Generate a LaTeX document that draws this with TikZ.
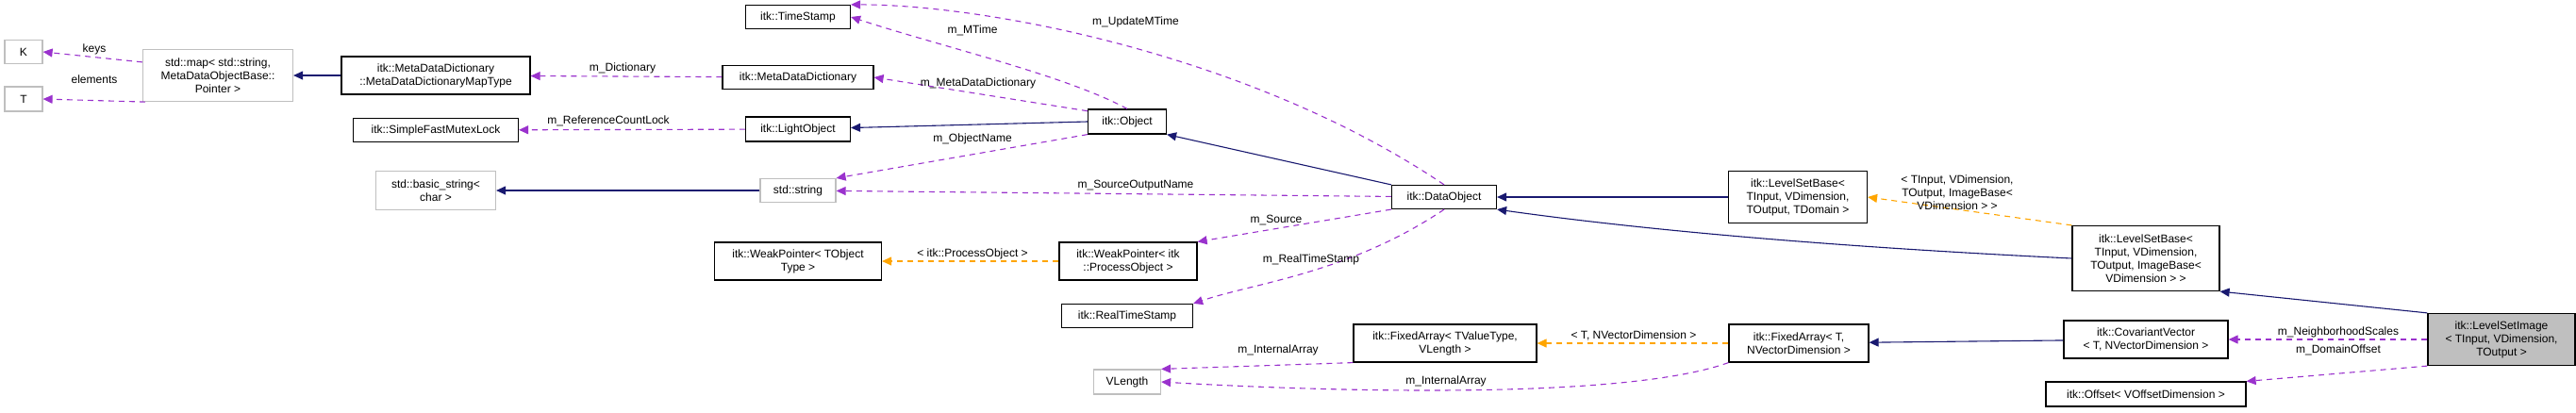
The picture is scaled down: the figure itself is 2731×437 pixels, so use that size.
\documentclass[tikz,border=0pt]{standalone}
\usepackage{fontspec}
\setmainfont{Liberation Sans}
\usetikzlibrary{arrows.meta}

\definecolor{edgeblue}{HTML}{191970}
\definecolor{edgepurple}{HTML}{9A32CD}
\definecolor{edgeorange}{HTML}{FFA500}
\definecolor{boxgray}{HTML}{BFBFBF}

\tikzset{
  cls/.style={draw=black, line width=1.2pt, fill=white, align=center, inner sep=2pt, font=\fontsize{12}{14}\selectfont},
  ext/.style={cls, draw=boxgray},
  inherit/.style={edgeblue, line width=1.1pt, -{Triangle[length=10pt,width=9pt]}},
  use/.style={edgepurple, line width=1.1pt, dash pattern=on 6pt off 5pt, -{Triangle[length=10pt,width=9pt]}},
  templ/.style={edgeorange, line width=1.1pt, dash pattern=on 6pt off 5pt, -{Triangle[length=10pt,width=9pt]}},
  lbl/.style={font=\fontsize{12}{14}\selectfont, align=center, inner sep=0pt}
}

\begin{document}
\begin{tikzpicture}[x=1pt,y=-1pt]
  \useasboundingbox (0,0) rectangle (2731,437);

  % classes
  \node[ext, minimum width=40, minimum height=25] (K) at (25,55) {K};
  \node[ext, minimum width=40, minimum height=26] (T) at (25,105) {T};
  \node[ext, minimum width=159, minimum height=55] (Map) at (231,80) {std::map< std::string,\\ MetaDataObjectBase::\\Pointer >};
  \node[cls, minimum width=200, minimum height=40] (MapType) at (462,80) {itk::MetaDataDictionary\\::MetaDataDictionaryMapType};
  \node[cls, minimum width=175, minimum height=25] (Mutex) at (462,138) {itk::SimpleFastMutexLock};
  \node[ext, minimum width=127, minimum height=41] (BasicString) at (462,202) {std::basic\_string<\\char >};
  \node[cls, minimum width=111, minimum height=25] (TimeStamp) at (846,18) {itk::TimeStamp};
  \node[cls, minimum width=160, minimum height=25] (Dictionary) at (846,82) {itk::MetaDataDictionary};
  \node[cls, minimum width=111, minimum height=26] (LightObject) at (846,137) {itk::LightObject};
  \node[ext, minimum width=80, minimum height=25] (String) at (846,202) {std::string};
  \node[cls, minimum width=177, minimum height=40] (WeakObject) at (846,277) {itk::WeakPointer< TObject\\Type >};
  \node[cls, minimum width=83, minimum height=26] (Object) at (1195,129) {itk::Object};
  \node[cls, minimum width=146, minimum height=40] (WeakProcess) at (1196,277) {itk::WeakPointer< itk\\::ProcessObject >};
  \node[cls, minimum width=139, minimum height=25] (RealTimeStamp) at (1195,335) {itk::RealTimeStamp};
  \node[ext, minimum width=71, minimum height=26] (VLength) at (1195,405) {VLength};
  \node[cls, minimum width=111, minimum height=25] (DataObject) at (1531,209) {itk::DataObject};
  \node[cls, minimum width=194, minimum height=40] (FixedArrayV) at (1532,364) {itk::FixedArray< TValueType,\\VLength >};
  \node[cls, minimum width=147, minimum height=55] (BaseDomain) at (1906,209) {itk::LevelSetBase<\\ TInput, VDimension,\\ TOutput, TDomain >};
  \node[cls, minimum width=148, minimum height=40] (FixedArrayT) at (1907,364) {itk::FixedArray< T,\\ NVectorDimension >};
  \node[cls, minimum width=156, minimum height=69] (BaseImage) at (2275,274) {itk::LevelSetBase<\\ TInput, VDimension,\\ TOutput, ImageBase<\\ VDimension > >};
  \node[cls, minimum width=174, minimum height=40] (Covariant) at (2275,360) {itk::CovariantVector\\< T, NVectorDimension >};
  \node[cls, minimum width=212, minimum height=26] (Offset) at (2275,418) {itk::Offset< VOffsetDimension >};
  \node[cls, fill=boxgray, minimum width=156, minimum height=55] (LevelSetImage) at (2652,360) {itk::LevelSetImage\\< TInput, VDimension,\\ TOutput >};

  % inheritance
  \draw[inherit] (MapType) -- (Map);
  \draw[inherit] (String) -- (BasicString);
  \draw[inherit] (Object.west) -- (LightObject);
  \draw[inherit] (DataObject.north west) -- (Object.south east);
  \draw[inherit] (BaseDomain) -- (DataObject);
  \draw[inherit] (BaseImage.west) .. controls (1950,262) and (1750,245) .. (DataObject.south east);
  \draw[inherit] (LevelSetImage.north west) -- (BaseImage.south east);
  \draw[inherit] (Covariant) -- (FixedArrayT);

  % members
  \draw[use] (Map.170) -- (K.east);
  \draw[use] (Map.200) -- (T.east);
  \draw[use] (Dictionary) -- (MapType);
  \draw[use] (LightObject) -- (Mutex);
  \draw[use] (Object.north) .. controls (1130,80) and (1000,50) .. (TimeStamp.east);
  \draw[use] (DataObject.north) .. controls (1330,60) and (1050,5) .. (TimeStamp.north east);
  \draw[use] (Object.165) -- (Dictionary.east);
  \draw[use] (Object.south west) -- (String.north east);
  \draw[use] (DataObject) -- (String);
  \draw[use] (DataObject.south west) -- (WeakProcess.north east);
  \draw[use] (DataObject.south) .. controls (1430,290) and (1330,300) .. (RealTimeStamp.north east);
  \draw[use] (FixedArrayV.south west) -- (VLength.north east);
  \draw[use] (FixedArrayT.south west) .. controls (1720,425) and (1400,415) .. (VLength.east);
  \draw[use] (LevelSetImage) -- (Covariant);
  \draw[use] (LevelSetImage.south west) -- (Offset.north east);

  % template arguments
  \draw[templ] (WeakProcess) -- (WeakObject);
  \draw[templ] (FixedArrayT) -- (FixedArrayV);
  \draw[templ] (BaseImage.north west) -- (BaseDomain.east);

  % labels
  \node[lbl] at (100,52) {keys};
  \node[lbl] at (100,84) {elements};
  \node[lbl] at (660,72) {m\_Dictionary};
  \node[lbl] at (645,128) {m\_ReferenceCountLock};
  \node[lbl] at (1031,32) {m\_MTime};
  \node[lbl] at (1204,23) {m\_UpdateMTime};
  \node[lbl] at (1037,88) {m\_MetaDataDictionary};
  \node[lbl] at (1031,147) {m\_ObjectName};
  \node[lbl] at (1204,197) {m\_SourceOutputName};
  \node[lbl] at (1353,233) {m\_Source};
  \node[lbl] at (1031,269) {< itk::ProcessObject >};
  \node[lbl] at (1390,275) {m\_RealTimeStamp};
  \node[lbl] at (1355,371) {m\_InternalArray};
  \node[lbl] at (1732,356) {< T, NVectorDimension >};
  \node[lbl] at (1533,404) {m\_InternalArray};
  \node[lbl] at (2075,204) {< TInput, VDimension,\\ TOutput, ImageBase<\\ VDimension > >};
  \node[lbl] at (2479,352) {m\_NeighborhoodScales};
  \node[lbl] at (2479,371) {m\_DomainOffset};
\end{tikzpicture}
\end{document}
